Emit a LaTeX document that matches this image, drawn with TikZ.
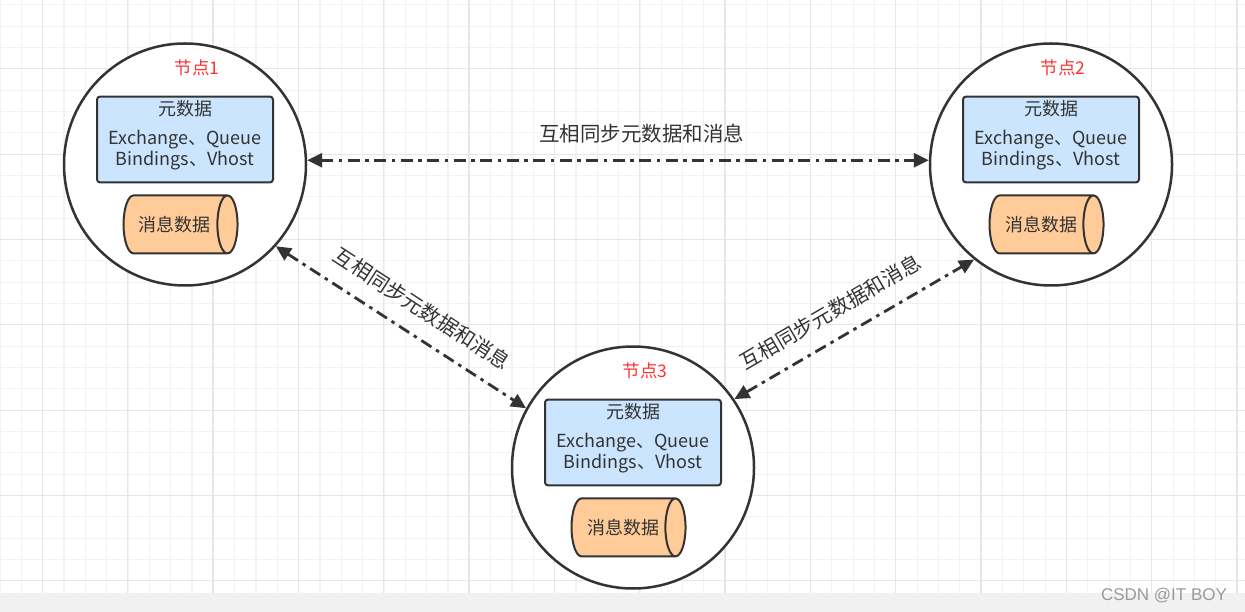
\documentclass[tikz,border=0pt]{standalone}
\usepackage{fontspec}
\newfontfamily\cjk{Noto Sans CJK SC}
\newfontfamily\wmfont{Liberation Sans}
\usetikzlibrary{shapes.geometric, arrows.meta, positioning}
\definecolor{edgegray}{HTML}{333333}
\definecolor{metablue}{HTML}{CCE5FF}
\definecolor{storeorange}{HTML}{FFCC99}
\definecolor{titlered}{HTML}{FF3333}
\definecolor{gridminor}{HTML}{F2F2F2}
\definecolor{gridmajor}{HTML}{E6E6E6}
\definecolor{barbg}{HTML}{F1F1F1}

\begin{document}
\begin{tikzpicture}[
                x=1pt, y=1pt,
                server/.style={circle, draw=edgegray, line width=2.5pt, fill=white, minimum size=242pt, inner sep=0pt},
                meta/.style={draw=edgegray, rectangle, rounded corners=3pt, line width=2pt, fill=metablue, minimum width=176pt, minimum height=83pt, align=center, text=edgegray, font=\cjk\fontsize{18}{21}\selectfont},
                store/.style={cylinder, draw=edgegray, line width=2pt, fill=storeorange, minimum width=58pt, minimum height=114pt, aspect=1.2, inner sep=0pt, text=edgegray, font=\cjk\fontsize{18}{21}\selectfont},
                nodetitle/.style={inner sep=0pt, text=titlered, font=\cjk\fontsize{17.5}{21}\selectfont},
                sync/.style={{Triangle[length=15pt, width=14pt]}-{Triangle[length=15pt, width=14pt]}, line width=2.8pt, draw=edgegray, dash pattern=on 12pt off 5.5pt on 3.5pt off 5.5pt},
                synclabel/.style={inner sep=2pt, text=edgegray, font=\cjk\fontsize{20.5}{24}\selectfont}
            ]

\useasboundingbox (0,0) rectangle (1245,-612);
            % background grid
            \begin{scope}[shift={(0,-4.9)}]
                \draw[gridminor, line width=1.2pt, step=21.33pt] (-1,4.8) grid (1246,-588);
            \end{scope}
            \begin{scope}[shift={(42.3,-68.9)}]
                \draw[gridmajor, line width=1.2pt, step=85.33pt] (-43,68.8) grid (1203,-524);
            \end{scope}
            \fill[barbg] (0,-593) rectangle (1245,-612);
            \node[font=\wmfont\fontsize{17}{20}\selectfont, text=black!40] (watermark) at (1164,-596) {CSDN @IT BOY};

\node[server] (node1) at (185,-164.5) {};
            \node[server] (node2) at (1051,-164.5) {};
            \node[server] (node3) at (633,-467.5) {};

\node[meta] (meta1) at ([yshift=25pt]node1.center) {元数据\\[8pt]Exchange、Queue\\Bindings、Vhost\\[-7pt]\mbox{}};
            \node[store, below=11pt of meta1, xshift=-10pt] (store1) {消息数据};
            \node[nodetitle, above=20pt of meta1, xshift=12pt] (title1) {节点1};

\node[meta] (meta2) at ([yshift=25pt]node2.center) {元数据\\[8pt]Exchange、Queue\\Bindings、Vhost\\[-7pt]\mbox{}};
            \node[store, below=11pt of meta2, xshift=-10pt] (store2) {消息数据};
            \node[nodetitle, above=20pt of meta2, xshift=12pt] (title2) {节点2};

\node[meta] (meta3) at ([yshift=25pt]node3.center) {元数据\\[8pt]Exchange、Queue\\Bindings、Vhost\\[-7pt]\mbox{}};
            \node[store, below=11pt of meta3, xshift=-10pt] (store3) {消息数据};
            \node[nodetitle, above=20pt of meta3, xshift=12pt] (title3) {节点3};

\draw[sync] (node1.2) -- (node2.178) node[synclabel, pos=0.538, above=14pt] (label12) {互相同步元数据和消息};
            \draw[sync] (node1.-42) -- (node3.151) node[synclabel, pos=0.526, sloped, above=14pt] (label13) {互相同步元数据和消息};
            \draw[sync] (node3.34) -- (node2.231) node[synclabel, pos=0.457, sloped, above=14pt] (label32) {互相同步元数据和消息};

            \end{tikzpicture}
\end{document}
